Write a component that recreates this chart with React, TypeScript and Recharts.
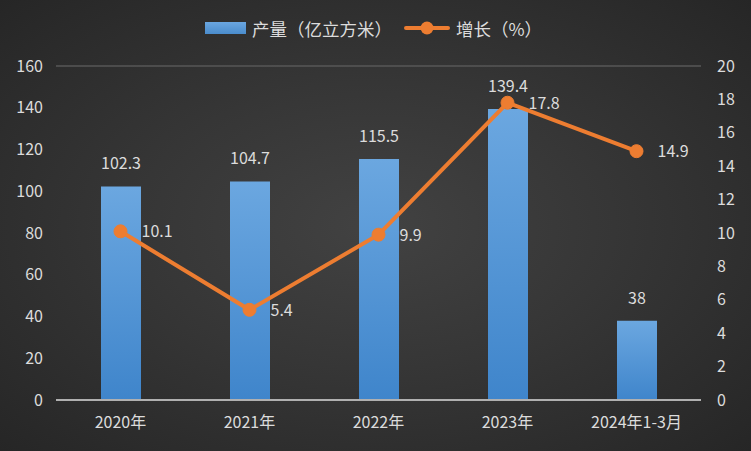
import React from 'react';
import { ComposedChart, Bar, Line, XAxis, YAxis, CartesianGrid, LabelList } from 'recharts';

const categories = ['2020年', '2021年', '2022年', '2023年', '2024年1-3月'];
const output = [102.3, 104.7, 115.5, 139.4, 38];
const growth = [10.1, 5.4, 9.9, 17.8, 14.9];
const leftTicks = [0, 20, 40, 60, 80, 100, 120, 140, 160];
const rightTicks = [0, 2, 4, 6, 8, 10, 12, 14, 16, 18, 20];

const data = categories.map((name, i) => ({ name, output: output[i], growth: growth[i] }));

const FONT = '"Microsoft YaHei", "Noto Sans CJK SC", "Noto Sans", sans-serif';
const TEXT = '#dcdcdc';
const ORANGE = '#ED7D31';

const GrowthLabel = (props: any) => {
  const { x, y, value } = props;
  return (
    <text x={x + 21} y={y} dy={6} fill={TEXT} fontSize={16} fontFamily={FONT}>
      {value}
    </text>
  );
};

const App: React.FC = () => {
  return (
    <div
      style={{
        position: 'absolute',
        left: 0,
        top: 0,
        width: 751,
        height: 451,
        background: 'radial-gradient(ellipse at 50% 50%, #424242 0%, #363636 45%, #262626 100%)',
        fontFamily: FONT,
      }}
    >
      <div
        style={{
          position: 'absolute',
          top: 16,
          left: 205,
          height: 24,
          display: 'flex',
          alignItems: 'center',
          color: TEXT,
          fontSize: 17.5,
          whiteSpace: 'nowrap',
        }}
      >
        <span
          style={{
            display: 'inline-block',
            width: 41,
            height: 12,
            background: 'linear-gradient(#6aa6e0, #4a8ccc)',
            marginRight: 6,
          }}
        />
        <span style={{ marginRight: 12 }}>产量（亿立方米）</span>
        <svg width={46} height={14} style={{ marginRight: 6 }}>
          <line x1={2} y1={7} x2={44} y2={7} stroke={ORANGE} strokeWidth={4} strokeLinecap="round" />
          <circle cx={23} cy={7} r={6.5} fill={ORANGE} />
        </svg>
        <span>增长（%）</span>
      </div>
      <ComposedChart
        width={751}
        height={451}
        data={data}
        margin={{ top: 66, right: 0, bottom: 21, left: 0 }}
        style={{ position: 'absolute', left: 0, top: 0 }}
      >
        <defs>
          <linearGradient id="barFill" x1="0" y1="0" x2="0" y2="1">
            <stop offset="0%" stopColor="#6ba7e0" />
            <stop offset="100%" stopColor="#3f85cb" />
          </linearGradient>
        </defs>
        <CartesianGrid vertical={false} stroke="#575757" strokeWidth={1.5} />
        <XAxis
          dataKey="name"
          height={30}
          tickLine={false}
          axisLine={{ stroke: '#b0b0b0', strokeWidth: 2 }}
          tickMargin={11}
          tick={{ fill: TEXT, fontSize: 16, fontFamily: FONT }}
        />
        <YAxis
          yAxisId="left"
          width={56}
          domain={[0, 160]}
          ticks={leftTicks}
          tickLine={false}
          axisLine={false}
          tickMargin={7}
          tick={{ fill: TEXT, fontSize: 16, fontFamily: FONT }}
        />
        <YAxis
          yAxisId="right"
          orientation="right"
          width={50}
          domain={[0, 20]}
          ticks={rightTicks}
          tickLine={false}
          axisLine={false}
          tickMargin={10}
          tick={{ fill: TEXT, fontSize: 16, fontFamily: FONT, textAnchor: 'start' }}
        />
        <Bar yAxisId="left" dataKey="output" fill="url(#barFill)" barSize={40} isAnimationActive={false}>
          <LabelList dataKey="output" position="top" offset={17} fill={TEXT} fontSize={16} fontFamily={FONT} />
        </Bar>
        <Line
          yAxisId="right"
          dataKey="growth"
          stroke={ORANGE}
          strokeWidth={4}
          dot={{ r: 6.5, fill: ORANGE, stroke: ORANGE, strokeWidth: 1 }}
          activeDot={false}
          isAnimationActive={false}
        >
          <LabelList dataKey="growth" content={<GrowthLabel />} />
        </Line>
      </ComposedChart>
    </div>
  );
};

export default App;
